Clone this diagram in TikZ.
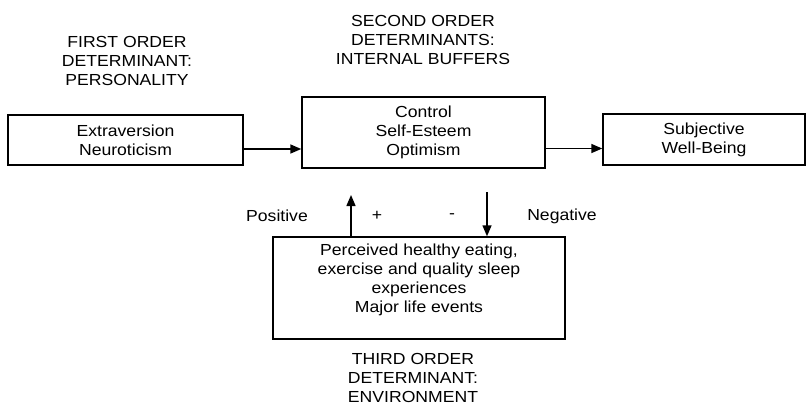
\documentclass[tikz,border=0pt]{standalone}
\usepackage{fontspec}
\setmainfont{Liberation Sans}[FakeStretch=1.1]
\usepackage{tikz}
\usetikzlibrary{arrows.meta}

\begin{document}
\begin{tikzpicture}[x=1pt,y=-1pt,
		box/.style={draw, line width=1.4pt, align=center, inner sep=0pt},
		caption/.style={align=center},
		arr/.style={line width=1.4pt, -{Triangle[length=11pt,width=9pt]}}]
			\tikzstyle{every node} = [font = \fontsize{16}{19}\selectfont]
				\useasboundingbox (0,0) rectangle (806,407);
				% headings
				\node[caption] (first) at (127,61) {FIRST ORDER\\DETERMINANT:\\PERSONALITY};
				\node[caption] (second) at (423,40) {SECOND ORDER\\DETERMINANTS:\\INTERNAL BUFFERS};
				\node[caption] (third) at (413,378) {THIRD ORDER\\DETERMINANT:\\ENVIRONMENT};
				% boxes
				\node[box, minimum width=235, minimum height=50] (extr) at (125.5,140)
					{Extraversion\\Neuroticism};
				\node[box, minimum width=243, minimum height=71] (buff) at (423.5,132.5)
					{Control\\Self-Esteem\\Optimism};
				\node[box, minimum width=202, minimum height=51] (swb) at (704,139.5)
					{Subjective\\Well-Being};
				\node[box, minimum width=292, minimum height=102] (env) at (419,288)
					{Perceived healthy eating,\\exercise and quality sleep\\experiences\\Major life events\\\mbox{}};
				% arrows
				\draw[arr] ([yshift=-9pt]extr.east) -- ([yshift=-9pt]extr.east -| buff.west);
				\draw[arr] ([yshift=-9pt]swb.west -| buff.east) -- ([yshift=-9pt]swb.west);
				\coordinate (posTip) at (351,195);
				\coordinate (negTail) at (487,192);
				\draw[arr] (env.north -| posTip) -- (posTip);
				\draw[arr] (negTail) -- (negTail |- env.north);
				% signs
				\node (pos) at (277,216) {Positive};
				\node (plus) at (377,216) {+};
				\node (minus) at (452,216) {-};
				\node (neg) at (562,216) {Negative};
			\end{tikzpicture}
\end{document}
